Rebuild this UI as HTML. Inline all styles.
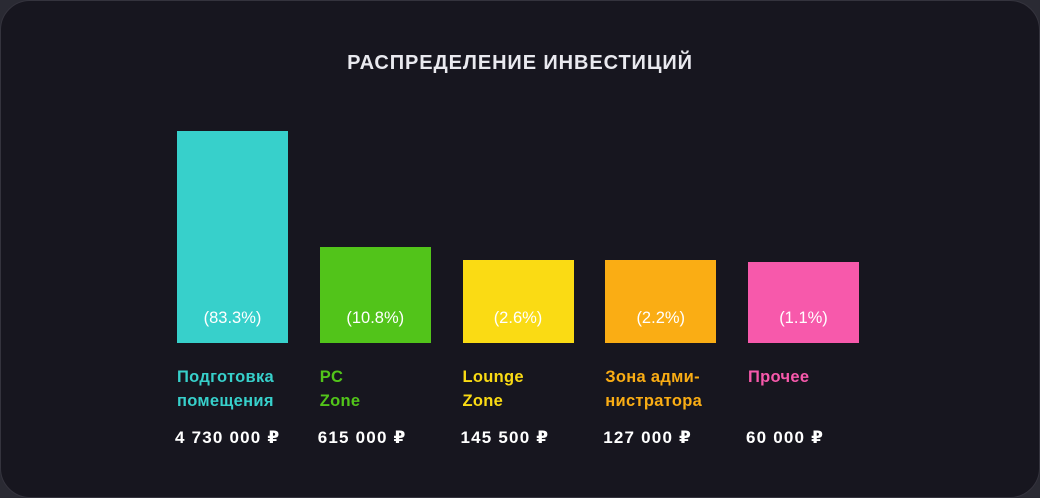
<!DOCTYPE html>
<html><head><meta charset="utf-8"><style>
html,body{margin:0;padding:0;width:1040px;height:498px;overflow:hidden;background:#2a2a33;font-family:"Liberation Sans","DejaVu Sans",sans-serif}
#card{position:absolute;left:0;top:0;width:1038px;height:496px;border:1px solid #34333d;border-radius:30px;background:#17161f;overflow:hidden}
#title{position:absolute;left:-1px;width:1040px;top:51px;text-align:center;color:#e9e9ef;font-weight:bold;font-size:20px;letter-spacing:0.9px}
.bar{position:absolute}
.pct{position:absolute;color:#fff;font-size:16.5px;text-align:center}
.lab{position:absolute;font-weight:bold;font-size:16.5px;line-height:24px;letter-spacing:0.3px}
.val{position:absolute;color:#fff;font-size:17px;font-weight:bold;letter-spacing:1.2px}
</style></head><body>
<div id="card">
<div id="title">РАСПРЕДЕЛЕНИЕ ИНВЕСТИЦИЙ</div>
<div id="plot"></div>
</div>
<script>
const categories=[["Подготовка","помещения"],["PC","Zone"],["Lounge","Zone"],["Зона адми-","нистратора"],["Прочее"]];
const percents=[83.3,10.8,2.6,2.2,1.1];
const amounts=["4 730 000 ₽","615 000 ₽","145 500 ₽","127 000 ₽","60 000 ₽"];
const colors=["#37d0cb","#52c41a","#fadb14","#faad14","#f759ab"];
const baseY=342,minH=79,pxPerPct=1.594;
function y(p){return baseY-(minH+p*pxPerPct);}
function x(i){return 176+i*142.75;}
const plot=document.getElementById('plot');
percents.forEach((p,i)=>{
 const b=document.createElement('div');b.className='bar';
 
 
 const top=y(p);
 b.style.cssText=`left:${x(i)}px;top:${top}px;width:111px;height:${baseY-top}px;background:${colors[i]}`;
 plot.appendChild(b);
 const t=document.createElement('div');t.className='pct';
 
 
 t.style.cssText=`left:${x(i)}px;top:308px;width:111px`;
 t.textContent='('+p+'%)';plot.appendChild(t);
 const l=document.createElement('div');l.className='lab';
 
 
 l.style.cssText=`left:${x(i)}px;top:364px;color:${colors[i]}`;
 l.innerHTML=categories[i].join('<br>');plot.appendChild(l);
 const v=document.createElement('div');v.className='val';
 
 
 v.style.cssText=`left:${x(i)-2}px;top:427px`;
 v.textContent=amounts[i];plot.appendChild(v);
});
</script>
</body></html>
